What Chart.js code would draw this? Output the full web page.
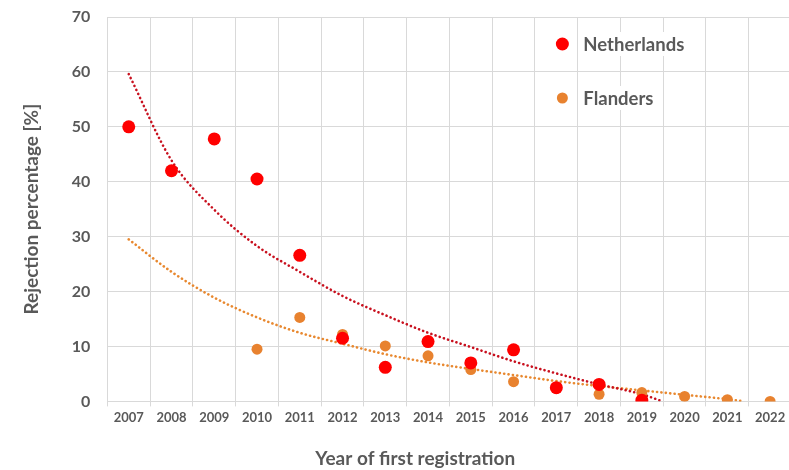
<!DOCTYPE html>
<html>
<head>
<meta charset="utf-8">
<script src="https://cdn.jsdelivr.net/npm/chart.js@4.4.1/dist/chart.umd.min.js"></script>
<style>
  body { margin: 0; background: #fff; overflow: hidden; }
  #wrap { width: 798px; height: 470px; }
</style>
</head>
<body>
<div id="wrap"><canvas id="rejChart"></canvas></div>
<script>
// data
const years = ['2007','2008','2009','2010','2011','2012','2013','2014','2015','2016','2017','2018','2019','2020','2021','2022'];
const netherlands = [50, 42, 47.8, 40.5, 26.6, 11.5, 6.2, 10.9, 7.0, 9.4, 2.5, 3.1, 0.2, null, null, null];
const flanders = [null, null, null, 9.5, 15.3, 12.2, 10.1, 8.3, 5.8, 3.6, 2.4, 1.3, 1.6, 0.9, 0.3, 0];

// dotted trend lines
const nlTrendYears = [2007, 2008, 2009, 2010, 2011, 2012, 2013, 2014, 2015, 2016, 2017, 2018, 2019, 2019.45];
const nlTrend = [59.6, 43.9, 34.9, 28.3, 23.6, 19.2, 15.7, 12.5, 9.9, 7.3, 5.1, 3.1, 1.3, 0.1];
const flTrendYears = [2007, 2008, 2009, 2010, 2011, 2012, 2013, 2014, 2015, 2016, 2017, 2018, 2019, 2020, 2021, 2021.4];
const flTrend = [29.5, 23.6, 18.9, 15.3, 12.5, 10.5, 8.6, 7.1, 5.9, 4.8, 3.7, 2.8, 2.0, 1.2, 0.4, 0];

const yMin = 0, yMax = 70, yStep = 10;

const FONT = 'Lato, "Open Sans", sans-serif';
const TEXT = '#595959';
const GRID = '#d9d9d9';
const RED = '#ff0000';
const ORANGE = '#e8822f';

const toXY = (xs, ys) => xs.map((x, i) => ({ x: x, y: ys[i] }));

// legend drawn inside the plot + x axis title
const extras = {
  id: 'extras',
  afterDraw(chart) {
    const ctx = chart.ctx;
    const a = chart.chartArea;
    const items = [
      { text: 'Netherlands', color: RED, r: 6.5, dy: 27 },
      { text: 'Flanders', color: ORANGE, r: 5.5, dy: 81 }
    ];
    ctx.save();
    ctx.font = 'bold 18.5px ' + FONT;
    ctx.textBaseline = 'middle';
    items.forEach(it => {
      const cx = a.left + 455, cy = a.top + it.dy;
      const tx = cx + 21;
      const w = ctx.measureText(it.text).width;
      ctx.fillStyle = '#fff';
      ctx.fillRect(tx - 3, cy - 12, w + 6, 24);
      ctx.beginPath();
      ctx.arc(cx, cy, it.r, 0, Math.PI * 2);
      ctx.fillStyle = it.color;
      ctx.fill();
      ctx.fillStyle = TEXT;
      ctx.textAlign = 'left';
      ctx.fillText(it.text, tx, cy + 1);
    });
    ctx.font = 'bold 19px ' + FONT;
    ctx.textAlign = 'center';
    ctx.fillStyle = TEXT;
    ctx.fillText('Year of first registration', a.left + a.width * 0.45, a.bottom + 57);
    ctx.restore();
  }
};

new Chart(document.getElementById('rejChart'), {
  type: 'line',
  data: {
    labels: years,
    datasets: [
      {
        label: 'Netherlands',
        data: netherlands,
        showLine: false,
        pointRadius: 6.5,
        pointHoverRadius: 6.5,
        pointBackgroundColor: RED,
        pointBorderWidth: 0,
        order: 0
      },
      {
        label: 'Flanders',
        data: flanders,
        showLine: false,
        pointRadius: 5.5,
        pointHoverRadius: 5.5,
        pointBackgroundColor: ORANGE,
        pointBorderWidth: 0,
        order: 1
      },
      {
        label: 'Netherlands trend',
        xAxisID: 'xt',
        data: toXY(nlTrendYears, nlTrend),
        borderColor: '#c8101e',
        borderWidth: 2.6,
        borderDash: [0.1, 4.3],
        borderCapStyle: 'round',
        pointRadius: 0,
        cubicInterpolationMode: 'monotone',
        order: 2
      },
      {
        label: 'Flanders trend',
        xAxisID: 'xt',
        data: toXY(flTrendYears, flTrend),
        borderColor: '#e8882f',
        borderWidth: 2.6,
        borderDash: [0.1, 4.3],
        borderCapStyle: 'round',
        pointRadius: 0,
        cubicInterpolationMode: 'monotone',
        order: 3
      }
    ]
  },
  options: {
    responsive: true,
    maintainAspectRatio: false,
    animation: false,
    layout: { padding: { top: 0, right: 0, left: 20, bottom: 40 } },
    plugins: {
      legend: { display: false },
      tooltip: { enabled: false }
    },
    scales: {
      x: {
        type: 'category',
        offset: true,
        grid: { offset: true, color: GRID, tickColor: GRID, tickLength: 5, drawTicks: true },
        border: { color: GRID },
        ticks: {
          color: TEXT,
          font: { family: FONT, size: 13, weight: 'bold' },
          padding: 4,
          maxRotation: 0,
          autoSkip: false
        }
      },
      xt: {
        type: 'linear',
        display: false,
        min: 2006.5,
        max: 2022.5
      },
      y: {
        min: yMin,
        max: yMax,
        afterFit: s => { s.paddingTop = 17; },
        ticks: {
          stepSize: yStep,
          color: TEXT,
          font: { family: FONT, size: 16, weight: 'bold' },
          padding: 17
        },
        grid: { color: GRID, drawTicks: false },
        border: { color: GRID },
        title: {
          display: true,
          text: 'Rejection percentage [%]',
          color: TEXT,
          font: { family: FONT, size: 19, weight: 'bold' },
          padding: { top: 0, bottom: 12 }
        }
      }
    }
  },
  plugins: [extras]
});
</script>
</body>
</html>
